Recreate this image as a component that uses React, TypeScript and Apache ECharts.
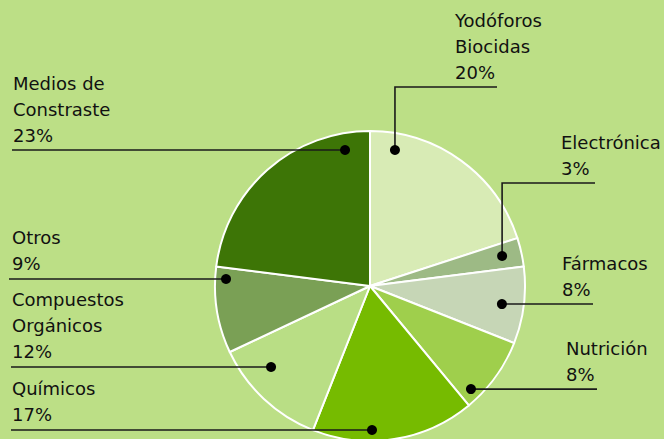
import React, { useEffect, useRef } from 'react';
import * as echarts from 'echarts';

// ---- data ----
const categories = [
  'Yodóforos\nBiocidas',
  'Electrónica',
  'Fármacos',
  'Nutrición',
  'Químicos',
  'Compuestos\nOrgánicos',
  'Otros',
  'Medios de\nConstraste',
];
const shares = [20, 3, 8, 8, 17, 12, 9, 23];

// ---- styles / layout ----
const sliceColors = ['#d8ebb5', '#9dba85', '#c6d6b6', '#9fcf4c', '#76bb00', '#b9de85', '#7aa055', '#3d7506'];
const CX = 370;
const CY = 286;
const R = 155;
// annotation anchors inside the slices (polar: degrees clockwise from top, fraction of radius)
const anchorAngle = [10.4, 77.2, 97.8, 135.6, 179.2, 230.7, 272.8, 349.6];
const anchorRadius = [0.892, 0.874, 0.859, 0.931, 0.929, 0.825, 0.93, 0.892];
const labelX = [455, 561, 562, 566, 12, 12, 12, 13];
const labelLineY: (number | null)[] = [87, 183, null, null, null, null, null, null];
const labelEndX = [497, 595, 593, 597, 11, 11, 9, 12];

function anchorPoint(i: number): [number, number] {
  const a = (anchorAngle[i] * Math.PI) / 180;
  const r = anchorRadius[i] * R;
  return [CX + r * Math.sin(a), CY - r * Math.cos(a)];
}

function leaderPoints(i: number): number[][] {
  const [dx, dy] = anchorPoint(i);
  const ly = labelLineY[i];
  return ly == null ? [[dx, dy], [labelEndX[i], dy]] : [[dx, dy], [dx, ly], [labelEndX[i], ly]];
}

export default function App() {
  const ref = useRef<HTMLDivElement>(null);
  useEffect(() => {
    const chart = echarts.init(ref.current as HTMLDivElement, null, { renderer: 'svg' });
    chart.setOption({
      animation: false,
      backgroundColor: '#bcdf86',
      polar: { center: [CX, CY], radius: R },
      angleAxis: { type: 'value', min: 0, max: 360, startAngle: 90, clockwise: true, show: false },
      radiusAxis: { type: 'value', min: 0, max: 1, show: false },
      series: [
        {
          type: 'pie',
          center: [CX, CY],
          radius: R,
          startAngle: 90,
          clockwise: true,
          silent: true,
          data: categories.map((n, i) => ({ name: n, value: shares[i], itemStyle: { color: sliceColors[i] } })),
          itemStyle: { borderColor: '#ffffff', borderWidth: 2 },
          label: {
            show: true,
            formatter: (p: any) => `${p.name}\n${p.value}%`,
            color: '#111',
            fontFamily: 'DejaVu Sans',
            fontSize: 18,
            lineHeight: 26,
            align: 'left',
            overflow: 'none',
          },
          labelLine: { show: false },
          labelLayout: (params: any) => {
            const i = params.dataIndex;
            const [, dy] = anchorPoint(i);
            const ly = labelLineY[i];
            const lineY = ly == null ? dy : ly;
            return {
              x: labelX[i],
              y: lineY - 2,
              align: 'left',
              verticalAlign: 'bottom',
            };
          },
          z: 1,
        },
        {
          type: 'custom',
          coordinateSystem: 'none',
          silent: true,
          z: 4,
          data: categories.map((_, i) => i),
          renderItem: (params: any) => ({
            type: 'polyline',
            shape: { points: leaderPoints(params.dataIndex) },
            style: { stroke: '#1a1a1a', lineWidth: 1.6, fill: 'none' },
          }),
        },
        {
          type: 'scatter',
          coordinateSystem: 'polar',
          data: anchorRadius.map((r, i) => [r, anchorAngle[i]]),
          symbolSize: 10,
          itemStyle: { color: '#000', opacity: 1 },
          silent: true,
          z: 5,
        },
      ],
    });
    return () => chart.dispose();
  }, []);
  return <div ref={ref} style={{ position: 'fixed', left: 0, top: 0, width: 664, height: 439 }} />;
}
